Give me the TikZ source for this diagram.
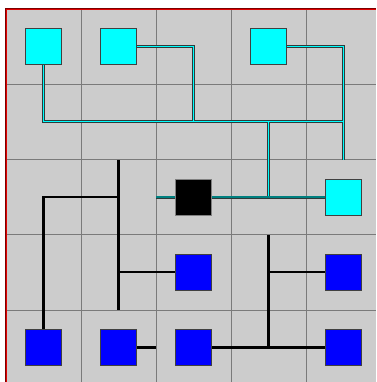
\documentclass[tikz,border=0pt]{standalone}
\begin{document}
\definecolor{bgc}{HTML}{CCCCCC}
\definecolor{gridc}{HTML}{7A7A7A}
\definecolor{edgec}{HTML}{404040}
\definecolor{wirec}{HTML}{2E3A3A}
\definecolor{cyanc}{HTML}{00FFFF}
\definecolor{bluec}{HTML}{0000FF}
\definecolor{tealc}{HTML}{008080}
\definecolor{framedark}{HTML}{7A0000}
\definecolor{framered}{HTML}{E00000}
\pgfdeclarelayer{wires}
\pgfsetlayers{wires,main}
\begin{tikzpicture}[x=1pt,y=-1pt,
  boxbase/.style={rectangle,minimum size=36pt,inner sep=0pt,draw=edgec,line width=0.9pt},
  cbox/.style={boxbase,fill=cyanc},
  bbox/.style={boxbase,fill=bluec},
  kbox/.style={boxbase,fill=black,draw=gray},
  cwire/.style={draw=wirec,line width=3pt,line join=miter,postaction={draw=cyanc,line width=1.5pt}},
  twire/.style={draw=wirec,line width=3pt,postaction={draw=tealc,line width=1.5pt}},
  bwire/.style={draw=black,line width=2.2pt},
  gridline/.style={draw=gridc,line width=1pt}]
\useasboundingbox (0,0) rectangle (376,382);
% boxes
\node[cbox] (c1) at (43.5,46.5) {};
\node[cbox] (c2) at (118.5,46.5) {};
\node[cbox] (c3) at (268.5,46.5) {};
\node[kbox] (bk) at (193.5,197) {};
\node[cbox] (c5) at (343.5,197) {};
\node[bbox] (b23) at (193.5,272) {};
\node[bbox] (b43) at (343.5,272) {};
\node[bbox] (b40) at (43.5,347.5) {};
\node[bbox] (b41) at (118.5,347.5) {};
\node[bbox] (b42) at (193.5,347.5) {};
\node[bbox] (b44) at (343.5,347.5) {};
% junction coordinates
\coordinate (j1) at (43.5,121.5);
\coordinate (j2) at (193.5,121.5);
\coordinate (j3) at (268.5,121.5);
\coordinate (j4) at (343.5,121.5);
\coordinate (k2) at (193.5,46.5);
\coordinate (k4) at (343.5,46.5);
\coordinate (e4) at (343.5,160);
\coordinate (t3) at (268.5,195.5);
\coordinate (s0) at (156,197);
\coordinate (v1) at (118.5,160);
\coordinate (v2) at (118.5,310);
\coordinate (h1) at (43.5,197);
\coordinate (h2) at (118.5,197);
\coordinate (h3) at (118.5,272);
\coordinate (h4) at (156,347.5);
\coordinate (v3) at (268.5,235);
\coordinate (v4) at (268.5,347.5);
\coordinate (h5) at (268.5,272);
\begin{pgfonlayer}{wires}
\fill[white] (0,0) rectangle (376,382);
\fill[bgc] (6,9) rectangle (376,382);
% grid
\foreach \x in {81,156,231,306} \draw[gridline] (\x,9) -- (\x,382);
\foreach \y in {84.25,159.5,234.75,310} \draw[gridline] (6,\y) -- (376,\y);
% frame
\draw[framedark,line width=0.8pt] (5.4,382) -- (5.4,8.4) -- (376,8.4);
\draw[framered,line width=1.5pt] (6.6,382) -- (6.6,9.6) -- (376,9.6);
% connectors
\path[twire] (s0) -- (bk.west) (bk.east) -- (c5.west);
\path[cwire] (c1.south) -- (j1) -- (j4)
  (c2.east) -- (k2) -- (j2)
  (c3.east) -- (k4) -- (e4)
  (j3) -- (t3);
\draw[bwire] (v1) -- (v2)
  (b40.north) -- (h1) -- (h2)
  (h3) -- (b23.west)
  (b41.east) -- (h4)
  (v3) -- (v4)
  (h5) -- (b43.west)
  (b42.east) -- (b44.west);
\end{pgfonlayer}
\end{tikzpicture}
\end{document}
